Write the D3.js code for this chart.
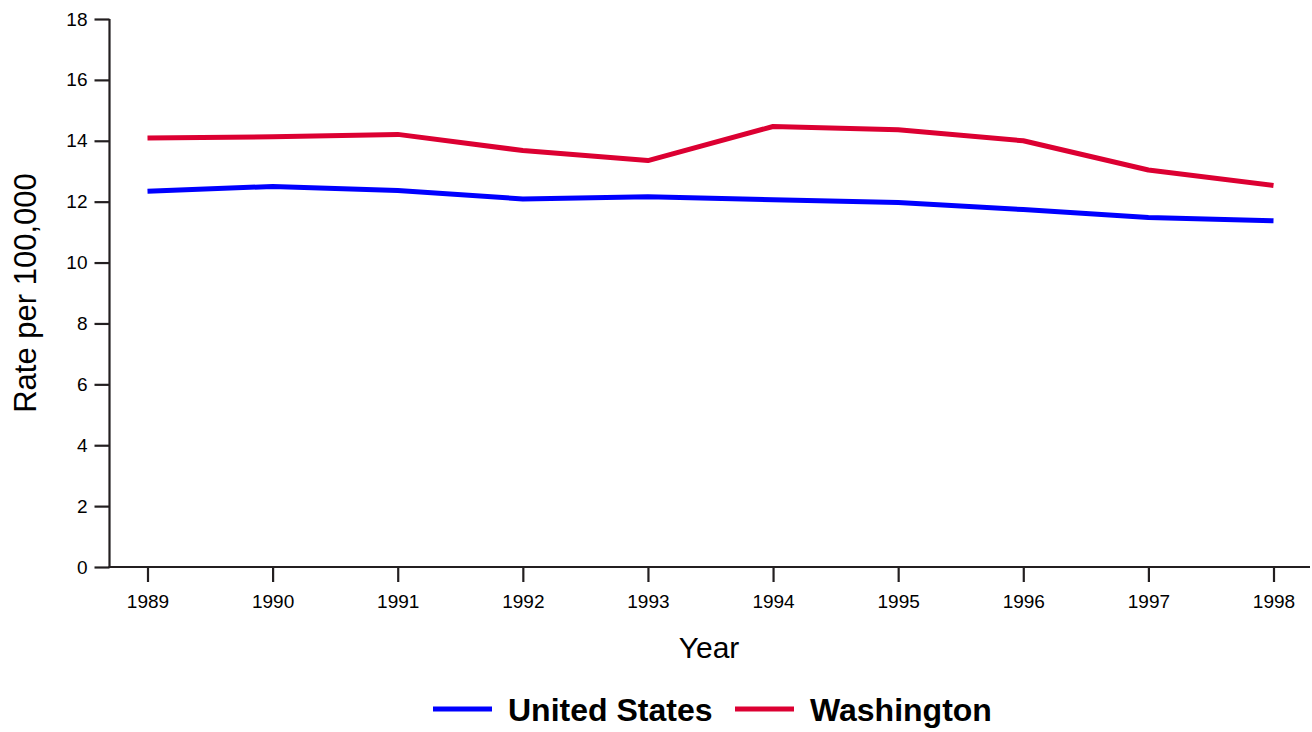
<!DOCTYPE html>
<html><head><meta charset="utf-8">
<script src="https://cdn.jsdelivr.net/npm/d3@7"></script>
<style>body{margin:0;background:#fff;font-family:"Liberation Sans",Arial,sans-serif;}</style>
</head><body><svg id="c" width="1312" height="732"></svg>
<script>
const years = [1989,1990,1991,1992,1993,1994,1995,1996,1997,1998];
const unitedStates = [12.34,12.50,12.37,12.09,12.16,12.06,11.97,11.74,11.48,11.37];
const washington = [14.09,14.13,14.21,13.68,13.35,14.47,14.36,14.00,13.04,12.53];
const yTicks = [0,2,4,6,8,10,12,14,16,18];
const seriesNames = ["United States","Washington"];
const seriesColors = ["#0000ff","#dc0032"];

const svg = d3.select("#c");
const axisColor = "#231f20";
const ff = "Liberation Sans, Arial, sans-serif";
const x = d3.scaleLinear().domain([1989,1998]).range([147.5,1273.5]);
const y = d3.scaleLinear().domain([0,18]).range([567,19]);

// y axis
const ya = svg.append("g").attr("transform","translate(109.5,0)")
  .call(d3.axisLeft(y).tickValues(yTicks).tickSize(15).tickPadding(7).tickSizeOuter(0));
ya.select(".domain").remove();
ya.append("line").attr("x1",0).attr("x2",0).attr("y1",y(18)).attr("y2",y(0)+1).attr("stroke",axisColor).attr("stroke-width",2.2);
ya.selectAll(".tick line").attr("stroke",axisColor).attr("stroke-width",2.2);
ya.selectAll(".tick text").attr("font-size",19).attr("fill","#000").attr("font-family",ff);

// x axis
const xa = svg.append("g").attr("transform","translate(0,567)")
  .call(d3.axisBottom(x).tickValues(years).tickFormat(d3.format("d")).tickSize(15).tickPadding(13).tickSizeOuter(0));
xa.select(".domain").remove();
xa.append("line").attr("x1",108.5).attr("x2",1310).attr("y1",0).attr("y2",0).attr("stroke",axisColor).attr("stroke-width",2.2);
xa.selectAll(".tick line").attr("stroke",axisColor).attr("stroke-width",2.2);
xa.selectAll(".tick text").attr("font-size",19).attr("fill","#000").attr("font-family",ff);

// titles
svg.append("text").attr("x",709).attr("y",658).attr("text-anchor","middle").attr("font-size",30).attr("font-family",ff).text("Year");
svg.append("text").attr("transform","translate(36,293) rotate(-90)").attr("text-anchor","middle").attr("font-size",31).attr("font-family",ff).text("Rate per 100,000");

// lines
const line = d3.line().x((d,i)=>x(years[i])).y(d=>y(d));
[unitedStates, washington].forEach((s,k)=>{
  svg.append("path").datum(s).attr("d",line).attr("fill","none")
    .attr("stroke",seriesColors[k]).attr("stroke-width",5).attr("stroke-linejoin","round");
});

// legend
const legendX = [433,735];
seriesNames.forEach((n,k)=>{
  svg.append("line").attr("x1",legendX[k]).attr("x2",legendX[k]+59).attr("y1",709).attr("y2",709)
    .attr("stroke",seriesColors[k]).attr("stroke-width",5);
  svg.append("text").attr("x",legendX[k]+75).attr("y",721).attr("font-size",32).attr("font-weight","bold").attr("font-family",ff).text(n);
});
</script></body></html>
